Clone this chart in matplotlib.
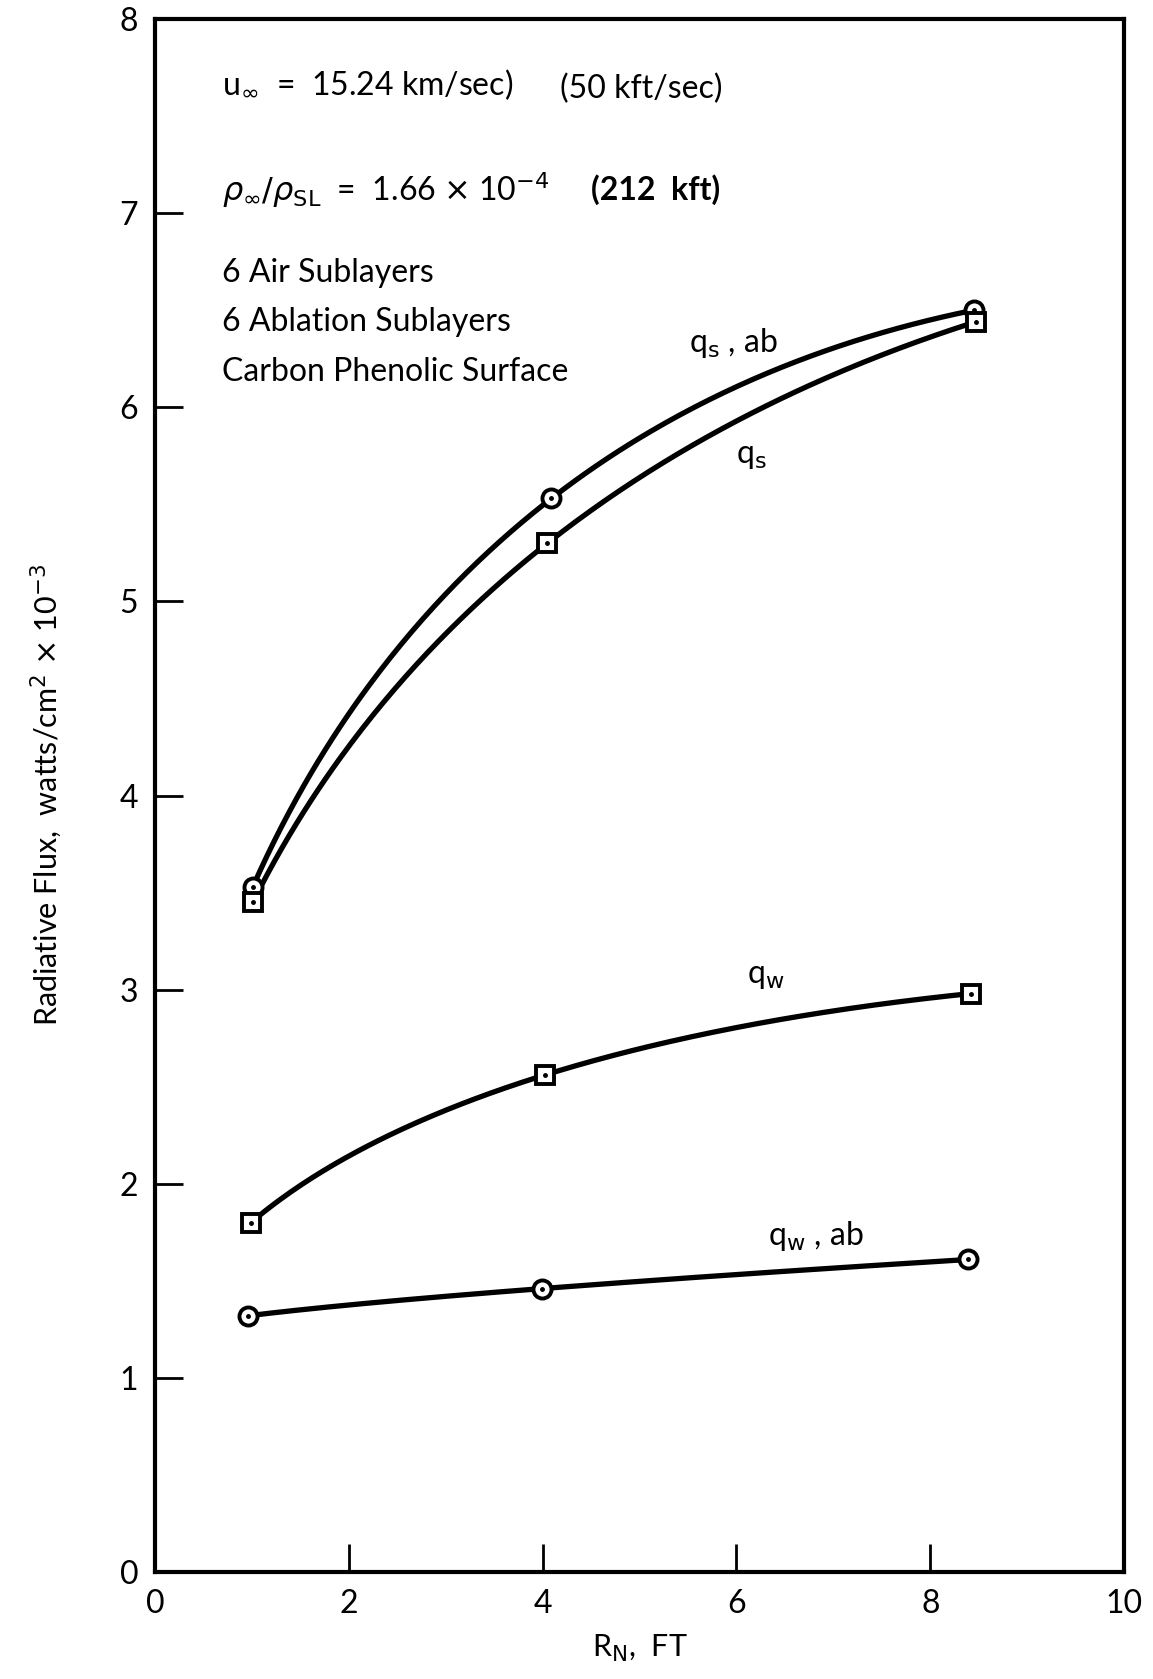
import numpy as np
import matplotlib
matplotlib.use('Agg')
import matplotlib.pyplot as plt

plt.rcParams['font.family'] = ['Lato', 'DejaVu Sans']
plt.rcParams['mathtext.fontset'] = 'dejavusans'

# nose radius R_N (ft) and radiative flux (watts/cm^2 x 10^-3)
x_qs_ab = [1.01, 4.09, 8.45]
qs_ab = [3.53, 5.53, 6.50]
x_qs = [1.01, 4.05, 8.47]
qs = [3.45, 5.30, 6.44]
x_qw = [0.99, 4.02, 8.42]
qw = [1.80, 2.56, 2.98]
x_qw_ab = [0.96, 3.99, 8.39]
qw_ab = [1.32, 1.46, 1.61]

xticks = [0, 2, 4, 6, 8, 10]
yticks = [0, 1, 2, 3, 4, 5, 6, 7, 8]

fig = plt.figure(figsize=(11.53, 16.79), dpi=100)
ax = fig.add_axes([0.1344, 0.0637, 0.8406, 0.925])


def curve(xs, ys, marker):
    # smooth curve through the points (quadratic in x**0.6), like the hand drawn original
    p = 0.6
    c = np.polyfit(np.power(xs, p), ys, 2)
    xx = np.linspace(xs[0], xs[-1], 200)
    ax.plot(xx, np.polyval(c, xx ** p), color='k', lw=3.8, zorder=2)
    ax.plot(xs, ys, marker, ms=13, mfc='white', mec='k', mew=2.8, zorder=3)
    ax.plot(xs, ys, '.', color='k', ms=5, zorder=4)


curve(x_qs_ab, qs_ab, 'o')
curve(x_qs, qs, 's')
curve(x_qw, qw, 's')
curve(x_qw_ab, qw_ab, 'o')

ax.set_xlim(0, 10)
ax.set_ylim(0, 8)
ax.set_xticks(xticks)
ax.set_yticks(yticks)
ax.tick_params(direction='in', length=20, width=2, labelsize=23, pad=12)
ax.tick_params(axis='x', pad=12)
for s in ax.spines.values():
    s.set_linewidth(3)

ax.set_xlabel(r'R$_{\rm N}$,  FT', fontsize=22, labelpad=10)
ax.set_ylabel(r'Radiative Flux,  watts/cm$^2$ $\times$ 10$^{-3}$', fontsize=22, labelpad=40)

fs = 23
ax.text(0.69, 7.66, r'u$_\infty$  =  15.24 km/sec)', fontsize=fs, va='center')
ax.text(4.18, 7.64, '(50 kft/sec)', fontsize=fs, va='center')
ax.text(0.69, 7.12, r'$\rho_\infty/\rho_{\rm SL}$  =  1.66 $\times$ 10$^{-4}$', fontsize=fs, va='center')
ax.text(4.5, 7.12, '(212  kft)', fontsize=fs, va='center', fontweight='bold')
ax.text(0.69, 6.69, '6 Air Sublayers', fontsize=fs, va='center')
ax.text(0.69, 6.44, '6 Ablation Sublayers', fontsize=fs, va='center')
ax.text(0.69, 6.18, 'Carbon Phenolic Surface', fontsize=fs, va='center')

ax.text(5.51, 6.33, r'q$_{\rm s}$ , ab', fontsize=fs, va='center')
ax.text(6.0, 5.75, r'q$_{\rm s}$', fontsize=fs, va='center')
ax.text(6.11, 3.07, r'q$_{\rm w}$', fontsize=fs, va='center')
ax.text(6.32, 1.73, r'q$_{\rm w}$ , ab', fontsize=fs, va='center')

fig.savefig('out.png', dpi=100)
